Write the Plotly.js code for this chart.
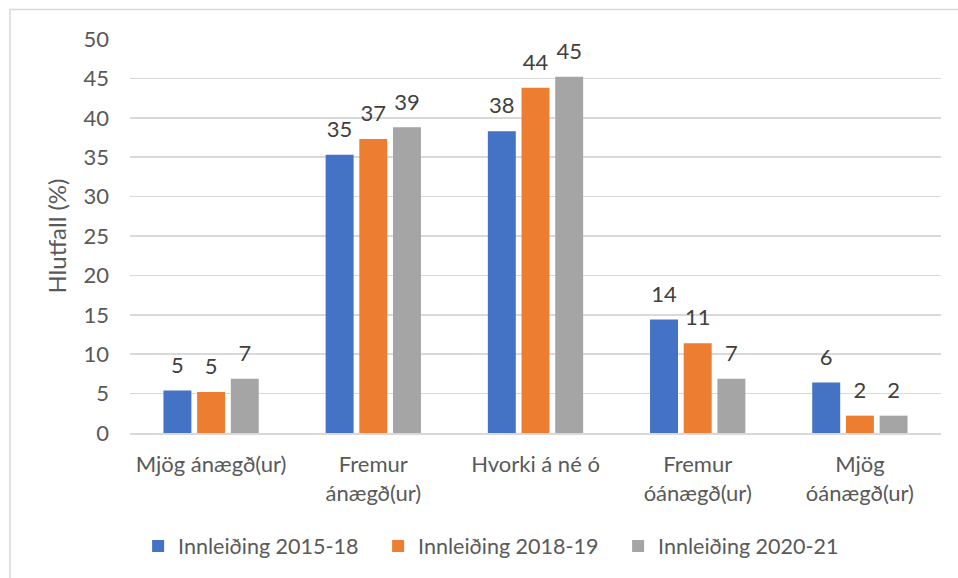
<!DOCTYPE html>
<html><head><meta charset="utf-8">
<script src="https://cdn.plot.ly/plotly-3.0.1.min.js"></script>
<style>html,body{margin:0;padding:0;background:#fff}#c{width:958px;height:578px}</style>
</head><body><div id="c"></div>
<script>
const categories = ["Mjög ánægð(ur)", "Fremur<br>ánægð(ur)", "Hvorki á né ó", "Fremur<br>óánægð(ur)", "Mjög<br>óánægð(ur)"];
const seriesNames = ["Innleiðing 2015-18", "Innleiðing 2018-19", "Innleiðing 2020-21"];
const s2015 = [5.4, 35.3, 38.3, 14.4, 6.4];
const s2018 = [5.2, 37.3, 43.8, 11.4, 2.2];
const s2020 = [6.9, 38.8, 45.2, 6.9, 2.2];
const colors = ["#4472C4", "#ED7D31", "#A5A5A5"];
const yTicks = [0, 5, 10, 15, 20, 25, 30, 35, 40, 45, 50];

const font = "Lato, 'Open Sans', sans-serif";
const series = [s2015, s2018, s2020];
const bars = series.map((v, i) => ({
  type: "bar", x: categories, y: v, name: seriesNames[i],
  marker: {color: colors[i]}, offsetgroup: "g" + i,
  hoverinfo: "skip"
}));
const labels = series.map((v, i) => ({
  type: "scatter", mode: "markers+text", x: categories, y: v, offsetgroup: "g" + i,
  text: v.map(d => d.toFixed(0)), textposition: "top center",
  marker: {size: 18, opacity: 0, color: colors[i]},
  textfont: {family: font, size: 22, color: "#404040"},
  showlegend: false, hoverinfo: "skip", cliponaxis: false
}));

const layout = {
  width: 958, height: 578,
  margin: {l: 130, r: 17, t: 39, b: 145},
  paper_bgcolor: "#fff", plot_bgcolor: "#fff",
  barmode: "group", bargap: 0.377, bargroupgap: 0.17,
  scattermode: "group", scattergap: 0.377,
  font: {family: font, size: 22, color: "#595959"},
  xaxis: {showgrid: false, showline: true, linecolor: "#d9d9d9", linewidth: 1.5,
          ticks: "", ticklabelstandoff: 11, tickfont: {size: 22, color: "#595959"}, automargin: false},
  yaxis: {range: [0, 50], tickvals: yTicks, showgrid: true, gridcolor: "#d9d9d9", gridwidth: 1.5,
          zeroline: false, ticks: "", ticklabelstandoff: 20,
          tickfont: {size: 22, color: "#595959"},
          title: {text: "Hlutfall (%)", font: {size: 24, color: "#595959"}, standoff: 10}, automargin: false},
  showlegend: true,
  legend: {orientation: "h", x: 0.01, xanchor: "left", y: -0.235, yanchor: "top",
           font: {size: 21.5, color: "#595959"}, itemwidth: 30, entrywidth: 195, traceorder: "normal"},
  shapes: [{type: "rect", xref: "paper", yref: "paper", x0: -0.148, x1: 1.1, y0: -0.5, y1: 1.075,
            line: {color: "#d9d9d9", width: 1.5}, fillcolor: "rgba(0,0,0,0)", layer: "below"}]
};
Plotly.newPlot("c", bars.concat(labels), layout, {displayModeBar: false, staticPlot: true});
</script></body></html>
